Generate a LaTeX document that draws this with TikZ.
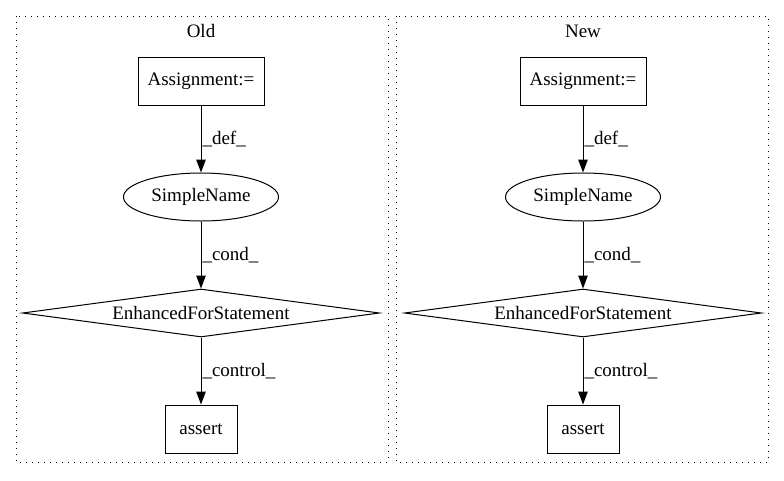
\documentclass[tikz,border=0pt]{standalone}
\usepackage{fontspec}
\setmainfont{Liberation Serif}
\usepackage{tikz}
\usetikzlibrary{positioning, arrows.meta, shapes.geometric}

\begin{document}
\begin{tikzpicture}[x=1pt, y=-1pt,
          font=\fontsize{19}{22}\selectfont,
          cl/.style={draw, line width=1pt, dash pattern=on 1.3pt off 4.7pt},
          bx/.style={draw, rectangle, inner sep=0pt, minimum height=48pt, line width=1pt},
          el/.style={draw, ellipse, inner sep=0pt, minimum width=155pt, minimum height=48pt, line width=1pt},
          dm/.style={draw, diamond, aspect=7.4, inner sep=0pt, minimum width=357pt, minimum height=48pt, line width=1pt},
          lb/.style={right, inner sep=1pt, midway},
          ->/.style={-{Triangle[length=13pt, width=9.5pt]}, line width=1pt}]
        \useasboundingbox (0,0) rectangle (784,480);
        % old
        \draw[cl] (16,16) rectangle (388,462);
        \node (o0) at (201,31) {Old};
        \node[bx, minimum width=126pt] (o1) at (201,81) {Assignment:=};
        \node[el] (o2) at (201,197) {SimpleName};
        \node[dm] (o3) at (201,313) {EnhancedForStatement};
        \node[bx, minimum width=72pt] (o4) at (201,429) {assert};
        \draw [->] (o1) to node[lb] {\_def\_} (o2);
        \draw [->] (o2) to node[lb] {\_cond\_} (o3);
        \draw [->] (o3) to node[lb] {\_control\_} (o4);
        % new
        \draw[cl] (396,16) rectangle (768,462);
        \node (n0) at (583,31) {New};
        \node[bx, minimum width=126pt] (n1) at (583,81) {Assignment:=};
        \node[el] (n2) at (583,197) {SimpleName};
        \node[dm] (n3) at (583,313) {EnhancedForStatement};
        \node[bx, minimum width=72pt] (n4) at (583,429) {assert};
        \draw [->] (n1) to node[lb] {\_def\_} (n2);
        \draw [->] (n2) to node[lb] {\_cond\_} (n3);
        \draw [->] (n3) to node[lb] {\_control\_} (n4);
      \end{tikzpicture}
\end{document}
